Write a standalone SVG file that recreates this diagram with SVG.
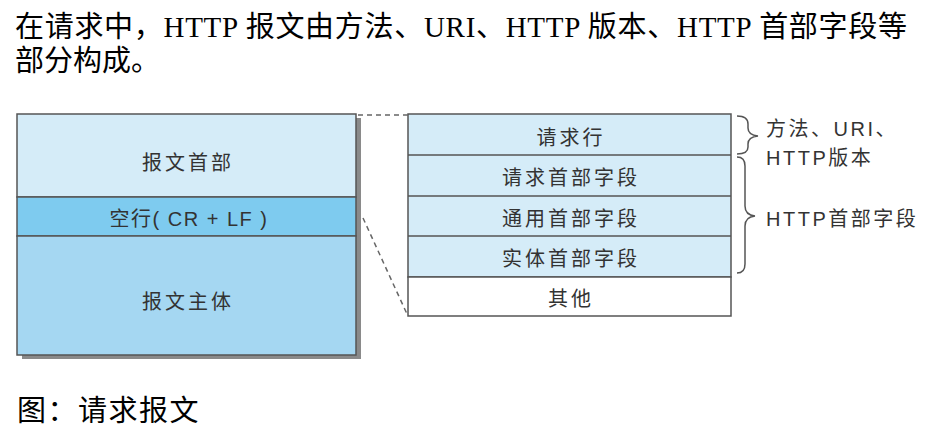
<svg xmlns="http://www.w3.org/2000/svg" width="940" height="441" viewBox="0 0 940 441">
<style>
.title{font-family:"Liberation Serif","Noto Sans CJK SC",serif;font-size:29px;fill:#000}
.lbl{font-family:"Liberation Sans","Noto Sans CJK SC",sans-serif;font-size:20px;fill:#333;letter-spacing:3px;text-anchor:middle}
.side{font-family:"Liberation Sans","Noto Sans CJK SC",sans-serif;font-size:20px;fill:#333;letter-spacing:2.5px}
.box{stroke:#555;stroke-width:1.5}
.div{stroke:#555;stroke-width:1.5;fill:none}
.dash{stroke:#666;stroke-width:1.5;stroke-dasharray:5 4;fill:none}
.brace{stroke:#555;stroke-width:1.5;fill:none}
</style>
<rect width="940" height="441" fill="#fff"/>
<g id="title">
<text class="title" x="15" y="37" textLength="892" lengthAdjust="spacing">在请求中，HTTP 报文由方法、URI、HTTP 版本、HTTP 首部字段等</text>
<text class="title" x="15" y="71">部分构成。</text>
</g>
<g id="message">
<rect x="22" y="118" width="339" height="241" fill="#8a8a8a"/>
<rect class="box" x="17" y="114" width="339" height="83" fill="#d5ecf8"/>
<rect class="box" x="17" y="197" width="339" height="39" fill="#7ecbef"/>
<rect class="box" x="17" y="236" width="339" height="119" fill="#a5d7f2"/>
<text class="lbl" x="188" y="170">报文首部</text>
<text class="lbl" x="189" y="226" style="letter-spacing:1.5px">空行( CR + LF )</text>
<text class="lbl" x="188" y="309">报文主体</text>
</g>
<g id="header-table">
<rect class="box" x="408" y="114" width="323" height="163" fill="#d5ecf8"/>
<rect class="box" x="408" y="277" width="323" height="39" fill="#fff"/>
<line class="div" x1="408" y1="155" x2="731" y2="155"/>
<line class="div" x1="408" y1="196" x2="731" y2="196"/>
<line class="div" x1="408" y1="236" x2="731" y2="236"/>
<text class="lbl" x="571" y="145">请求行</text>
<text class="lbl" x="571" y="185">请求首部字段</text>
<text class="lbl" x="571" y="226">通用首部字段</text>
<text class="lbl" x="571" y="266">实体首部字段</text>
<text class="lbl" x="571" y="306">其他</text>
</g>
<g id="connectors">
<line class="dash" x1="358" y1="115" x2="408" y2="115"/>
<line class="dash" x1="363" y1="218" x2="407" y2="314"/>
<path class="brace" d="M737,116 Q748,116 748,124 L748,128 Q748,135 758,136 Q748,137 748,144 L748,147 Q748,154 737,154"/>
<path class="brace" d="M737,157 Q745,157 745,166 L745,206 Q745,215 755,216 Q745,217 745,226 L745,264 Q745,273 737,273"/>
</g>
<g id="brace-labels">
<text class="side" x="766" y="136">方法、URI、</text>
<text class="side" x="766" y="165">HTTP版本</text>
<text class="side" x="766" y="226">HTTP首部字段</text>
</g>
<g id="caption">
<text class="title" x="17" y="421" style="letter-spacing:1.5px">图：请求报文</text>
</g>
</svg>
